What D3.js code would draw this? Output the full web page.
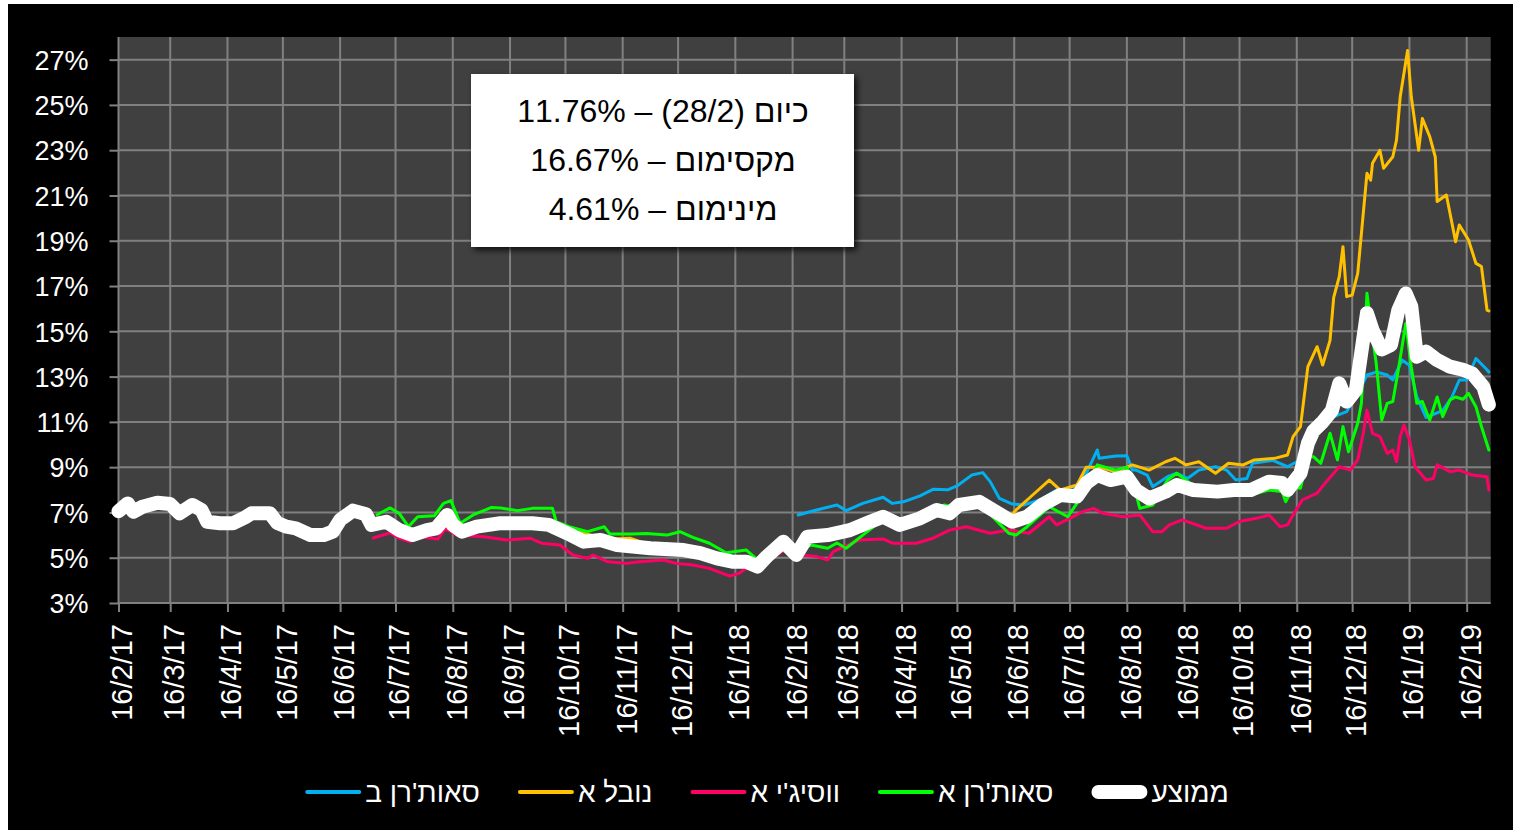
<!DOCTYPE html>
<html><head><meta charset="utf-8">
<script src="https://cdn.jsdelivr.net/npm/d3@7"></script>
<style>
html,body{margin:0;padding:0;background:#fff;}
svg{display:block;}
text{font-family:"Liberation Sans",Arial,sans-serif;}
</style></head><body>
<svg id="chart" width="1513" height="832"></svg>
<script>
// ---------- DATA (percent) ----------
const domainStart = "2017-02-16";
const domainEnd = "2019-03-01";
const yTicks = [3,5,7,9,11,13,15,17,19,21,23,25,27];
const xTickDates = ["2017-02-16","2017-03-16","2017-04-16","2017-05-16","2017-06-16","2017-07-16","2017-08-16","2017-09-16","2017-10-16","2017-11-16","2017-12-16","2018-01-16","2018-02-16","2018-03-16","2018-04-16","2018-05-16","2018-06-16","2018-07-16","2018-08-16","2018-09-16","2018-10-16","2018-11-16","2018-12-16","2019-01-16","2019-02-16"];
const seriesNames = ["סאות'רן ב","נובל א","ווסיג'י א","סאות'רן א","ממוצע"];
const seriesColors = ["#00B0F0","#FFC000","#FF0066","#00FF00","#FFFFFF"];
const boxLines = ["כיום (28/2) – 11.76%","מקסימום – 16.67%","מינימום – 4.61%"];

const southernB = [["2018-02-19",6.89],["2018-03-01",7.11],["2018-03-12",7.33],["2018-03-17",7.08],["2018-03-26",7.4],["2018-04-06",7.67],["2018-04-11",7.4],["2018-04-17",7.47],["2018-04-26",7.73],["2018-05-03",8.02],["2018-05-11",8.0],["2018-05-16",8.17],["2018-05-24",8.65],["2018-05-30",8.76],["2018-06-03",8.36],["2018-06-08",7.62],["2018-06-15",7.37],["2018-06-21",7.33],["2018-06-30",7.55],["2018-07-09",7.99],["2018-07-18",8.0],["2018-07-25",8.73],["2018-07-31",9.76],["2018-08-01",9.39],["2018-08-10",9.49],["2018-08-16",9.5],["2018-08-19",8.87],["2018-08-21",8.87],["2018-08-27",8.65],["2018-08-30",8.14],["2018-09-07",8.58],["2018-09-12",8.73],["2018-09-18",8.51],["2018-09-24",8.87],["2018-10-03",9.02],["2018-10-09",8.87],["2018-10-14",8.43],["2018-10-20",8.5],["2018-10-23",9.17],["2018-11-03",9.3],["2018-11-11",9.02],["2018-11-16",9.24],["2018-11-22",9.9],["2018-11-27",11.08],["2018-12-05",11.2],["2018-12-13",11.45],["2018-12-20",12.41],["2018-12-24",13.07],["2018-12-29",13.2],["2019-01-04",13.07],["2019-01-07",12.85],["2019-01-12",13.73],["2019-01-16",13.5],["2019-01-20",12.1],["2019-01-25",11.2],["2019-02-03",11.5],["2019-02-08",12.1],["2019-02-12",12.85],["2019-02-16",12.85],["2019-02-21",13.8],["2019-02-27",13.3],["2019-02-28",13.2]];

const nobleA = [["2017-02-16",7.05],["2017-02-21",7.4],["2017-02-24",7.03],["2017-03-01",7.25],["2017-03-09",7.43],["2017-03-16",7.37],["2017-03-21",6.96],["2017-03-28",7.33],["2017-04-02",7.1],["2017-04-05",6.59],["2017-04-12",6.52],["2017-04-19",6.52],["2017-04-26",6.8],["2017-04-29",6.96],["2017-05-09",6.96],["2017-05-13",6.53],["2017-05-18",6.37],["2017-05-23",6.3],["2017-05-31",6.0],["2017-06-07",6.0],["2017-06-12",6.15],["2017-06-16",6.67],["2017-06-23",7.05],["2017-06-30",6.95],["2017-07-03",6.5],["2017-07-11",6.6],["2017-07-18",6.25],["2017-07-25",6.05],["2017-08-02",6.25],["2017-08-07",6.35],["2017-08-13",6.85],["2017-08-16",6.5],["2017-08-21",6.2],["2017-08-29",6.4],["2017-09-10",6.55],["2017-09-28",6.55],["2017-10-07",6.5],["2017-10-13",6.3],["2017-10-17",6.15],["2017-10-26",6.1],["2017-11-04",5.86],["2017-11-13",5.84],["2017-11-20",5.86],["2017-12-01",5.55],["2017-12-19",5.4],["2017-12-28",5.25],["2018-01-06",5.05],["2018-01-15",4.9],["2018-01-22",4.95],["2018-01-26",4.9],["2018-01-28",4.65],["2018-02-02",5.05],["2018-02-11",5.7],["2018-02-18",5.15],["2018-02-24",5.95],["2018-03-07",6.0],["2018-03-19",6.2],["2018-03-30",6.6],["2018-04-06",6.85],["2018-04-15",6.5],["2018-04-26",6.75],["2018-05-05",7.05],["2018-05-12",6.95],["2018-05-17",7.3],["2018-05-28",7.45],["2018-06-06",7.05],["2018-06-13",6.75],["2018-06-17",7.11],["2018-06-26",7.77],["2018-07-05",8.43],["2018-07-11",7.99],["2018-07-20",8.21],["2018-07-25",9.0],["2018-08-01",9.0],["2018-08-10",8.8],["2018-08-19",9.1],["2018-08-28",8.87],["2018-09-06",9.24],["2018-09-11",9.39],["2018-09-17",9.1],["2018-09-24",9.24],["2018-10-03",8.73],["2018-10-10",9.17],["2018-10-18",9.1],["2018-10-24",9.32],["2018-11-04",9.39],["2018-11-11",9.54],["2018-11-14",10.35],["2018-11-18",10.79],["2018-11-22",13.44],["2018-11-27",14.32],["2018-11-30",13.51],["2018-12-04",14.6],["2018-12-06",16.5],["2018-12-09",17.41],["2018-12-11",18.74],["2018-12-13",16.53],["2018-12-16",16.6],["2018-12-19",17.56],["2018-12-24",21.98],["2018-12-26",21.68],["2018-12-27",22.42],["2018-12-31",23.0],["2019-01-02",22.2],["2019-01-07",22.71],["2019-01-09",23.45],["2019-01-11",25.36],["2019-01-15",27.4],["2019-01-17",25.36],["2019-01-21",23.0],["2019-01-23",24.4],["2019-01-27",23.6],["2019-01-30",22.7],["2019-01-31",20.73],["2019-02-05",21.02],["2019-02-10",18.96],["2019-02-12",19.7],["2019-02-17",19.03],["2019-02-21",18.0],["2019-02-24",17.86],["2019-02-27",15.94],["2019-02-28",15.9]];

const wasigiA = [["2017-07-04",5.87],["2017-07-13",6.1],["2017-07-18",5.86],["2017-07-24",5.71],["2017-07-29",5.93],["2017-08-08",5.83],["2017-08-12",6.3],["2017-08-18",6.0],["2017-09-02",5.93],["2017-09-14",5.78],["2017-09-27",5.86],["2017-10-03",5.64],["2017-10-13",5.56],["2017-10-20",5.12],["2017-10-28",4.97],["2017-10-31",5.12],["2017-11-08",4.82],["2017-11-18",4.75],["2017-11-25",4.82],["2017-12-08",4.9],["2017-12-15",4.75],["2017-12-24",4.68],["2018-01-02",4.53],["2018-01-13",4.19],["2018-01-18",4.31],["2018-01-22",4.53],["2018-01-28",4.55],["2018-02-02",4.9],["2018-02-11",5.3],["2018-02-20",5.12],["2018-03-01",5.05],["2018-03-07",4.9],["2018-03-10",5.27],["2018-03-24",5.78],["2018-04-06",5.83],["2018-04-11",5.64],["2018-04-24",5.64],["2018-05-03",5.86],["2018-05-12",6.22],["2018-05-21",6.37],["2018-06-03",6.08],["2018-06-13",6.22],["2018-06-24",6.08],["2018-07-05",6.81],["2018-07-09",6.45],["2018-07-16",6.74],["2018-07-23",7.03],["2018-07-29",7.18],["2018-08-03",6.96],["2018-08-14",6.81],["2018-08-23",6.89],["2018-08-30",6.15],["2018-09-04",6.15],["2018-09-08",6.45],["2018-09-15",6.67],["2018-09-28",6.3],["2018-10-09",6.3],["2018-10-16",6.6],["2018-10-25",6.74],["2018-11-01",6.89],["2018-11-07",6.37],["2018-11-11",6.45],["2018-11-14",6.89],["2018-11-19",7.55],["2018-11-27",7.85],["2018-12-02",8.36],["2018-12-09",9.02],["2018-12-15",8.87],["2018-12-19",9.32],["2018-12-22",10.49],["2018-12-24",11.52],["2018-12-27",10.49],["2018-12-31",10.35],["2019-01-04",9.61],["2019-01-07",9.76],["2019-01-09",9.24],["2019-01-11",10.35],["2019-01-13",10.86],["2019-01-16",10.2],["2019-01-19",9.02],["2019-01-25",8.43],["2019-01-29",8.5],["2019-01-31",9.1],["2019-02-07",8.8],["2019-02-12",8.87],["2019-02-19",8.65],["2019-02-27",8.58],["2019-02-28",7.99]];

const southernA = [["2017-07-06",6.9],["2017-07-13",7.2],["2017-07-18",6.96],["2017-07-23",6.37],["2017-07-28",6.81],["2017-08-06",6.85],["2017-08-11",7.4],["2017-08-15",7.52],["2017-08-20",6.52],["2017-08-27",6.89],["2017-09-06",7.22],["2017-09-11",7.2],["2017-09-20",7.08],["2017-09-28",7.18],["2017-10-09",7.18],["2017-10-11",6.59],["2017-10-18",6.37],["2017-10-28",6.15],["2017-11-06",6.37],["2017-11-09",6.05],["2017-11-21",6.05],["2017-11-29",6.07],["2017-12-10",6.0],["2017-12-17",6.15],["2017-12-24",5.9],["2018-01-02",5.64],["2018-01-11",5.22],["2018-01-22",5.34],["2018-01-28",4.9],["2018-02-02",5.0],["2018-02-11",5.6],["2018-02-18",5.3],["2018-02-26",5.56],["2018-03-07",5.42],["2018-03-12",5.65],["2018-03-17",5.42],["2018-03-26",6.0],["2018-04-06",6.7],["2018-04-15",6.4],["2018-04-26",6.8],["2018-05-09",7.33],["2018-05-18",7.2],["2018-05-28",7.4],["2018-06-06",6.67],["2018-06-13",6.08],["2018-06-17",6.0],["2018-06-23",6.37],["2018-07-05",7.25],["2018-07-15",6.81],["2018-07-23",7.77],["2018-07-31",9.1],["2018-08-10",8.87],["2018-08-16",9.0],["2018-08-19",8.43],["2018-08-23",7.18],["2018-08-30",7.33],["2018-09-07",8.43],["2018-09-12",8.73],["2018-09-24",8.0],["2018-10-03",7.7],["2018-10-12",7.77],["2018-10-23",7.8],["2018-11-01",7.99],["2018-11-08",7.92],["2018-11-10",7.47],["2018-11-14",8.1],["2018-11-18",8.07],["2018-11-22",9.46],["2018-11-25",9.46],["2018-11-29",9.17],["2018-12-04",10.5],["2018-12-08",9.32],["2018-12-11",10.79],["2018-12-14",9.68],["2018-12-19",10.94],["2018-12-21",11.82],["2018-12-24",16.68],["2018-12-27",14.76],["2018-12-29",13.59],["2019-01-01",11.08],["2019-01-04",11.82],["2019-01-07",11.9],["2019-01-10",13.3],["2019-01-14",15.35],["2019-01-17",13.44],["2019-01-20",11.82],["2019-01-23",11.9],["2019-01-27",11.08],["2019-01-31",12.1],["2019-02-03",11.23],["2019-02-07",11.97],["2019-02-10",12.1],["2019-02-14",12.0],["2019-02-17",12.26],["2019-02-21",11.67],["2019-02-24",10.79],["2019-02-28",9.76]];

const average = [["2017-02-16",7.05],["2017-02-21",7.4],["2017-02-24",7.03],["2017-03-01",7.25],["2017-03-09",7.43],["2017-03-16",7.37],["2017-03-21",6.96],["2017-03-28",7.33],["2017-04-02",7.1],["2017-04-05",6.59],["2017-04-12",6.52],["2017-04-19",6.52],["2017-04-26",6.8],["2017-04-29",6.96],["2017-05-09",6.96],["2017-05-13",6.53],["2017-05-18",6.37],["2017-05-23",6.3],["2017-05-31",6.0],["2017-06-07",6.0],["2017-06-12",6.15],["2017-06-16",6.67],["2017-06-23",7.08],["2017-06-30",6.92],["2017-07-03",6.45],["2017-07-11",6.59],["2017-07-18",6.22],["2017-07-25",6.0],["2017-08-02",6.22],["2017-08-07",6.3],["2017-08-13",6.89],["2017-08-16",6.45],["2017-08-21",6.15],["2017-08-29",6.37],["2017-09-10",6.52],["2017-09-28",6.52],["2017-10-07",6.45],["2017-10-17",6.08],["2017-10-26",5.71],["2017-11-04",5.78],["2017-11-13",5.56],["2017-12-01",5.42],["2017-12-19",5.34],["2017-12-28",5.2],["2018-01-06",4.97],["2018-01-15",4.82],["2018-01-22",4.82],["2018-01-28",4.61],["2018-02-02",5.05],["2018-02-11",5.71],["2018-02-18",5.12],["2018-02-24",5.93],["2018-03-07",6.0],["2018-03-19",6.22],["2018-03-30",6.59],["2018-04-06",6.81],["2018-04-15",6.45],["2018-04-26",6.74],["2018-05-05",7.11],["2018-05-12",6.96],["2018-05-17",7.33],["2018-05-28",7.47],["2018-06-06",7.03],["2018-06-15",6.59],["2018-06-23",6.81],["2018-07-01",7.33],["2018-07-11",7.77],["2018-07-20",7.7],["2018-07-25",8.29],["2018-07-31",8.65],["2018-08-07",8.43],["2018-08-16",8.58],["2018-08-21",7.99],["2018-08-28",7.62],["2018-09-06",7.92],["2018-09-12",8.21],["2018-09-15",8.14],["2018-09-21",7.99],["2018-10-04",7.92],["2018-10-13",7.99],["2018-10-22",7.99],["2018-11-01",8.36],["2018-11-08",8.3],["2018-11-11",7.99],["2018-11-18",8.73],["2018-11-22",10.05],["2018-11-25",10.6],["2018-11-30",11.0],["2018-12-05",11.5],["2018-12-09",12.7],["2018-12-13",11.9],["2018-12-18",12.41],["2018-12-24",15.8],["2018-12-27",15.06],["2019-01-01",14.2],["2019-01-06",14.4],["2019-01-10",15.94],["2019-01-14",16.67],["2019-01-17",16.1],["2019-01-20",13.88],["2019-01-25",14.1],["2019-01-31",13.73],["2019-02-07",13.44],["2019-02-14",13.3],["2019-02-19",13.14],["2019-02-25",12.55],["2019-02-28",11.76]];

const allSeries = [southernB, nobleA, wasigiA, southernA, average];

// ---------- DRAW ----------
const parse = d3.timeParse("%Y-%m-%d");
const svg = d3.select("#chart");
svg.append("rect").attr("x",8).attr("y",4).attr("width",1505).attr("height",826).attr("fill","#000");

const m = {left:118.5, right:1490.7, top:37, bottom:603};
const x = d3.scaleTime().domain([parse(domainStart), parse(domainEnd)]).range([m.left, m.right]);
const y = d3.scaleLinear().domain([3,28]).range([m.bottom, m.top]);

svg.append("rect").attr("x",m.left).attr("y",m.top).attr("width",m.right-m.left).attr("height",m.bottom-m.top).attr("fill","#404040");

const gridColor = "#808080";
const grid = svg.append("g");
grid.selectAll("line.v").data(xTickDates).join("line")
  .attr("x1",d=>x(parse(d))).attr("x2",d=>x(parse(d)))
  .attr("y1",m.top).attr("y2",m.bottom)
  .attr("stroke",gridColor).attr("stroke-width",2);
grid.selectAll("line.h").data(yTicks).join("line")
  .attr("x1",m.left).attr("x2",m.right)
  .attr("y1",d=>y(d)).attr("y2",d=>y(d))
  .attr("stroke",gridColor).attr("stroke-width",2);

// Y axis
const yAxis = svg.append("g").attr("transform",`translate(${m.left},0)`)
  .call(d3.axisLeft(y).tickValues(yTicks).tickSize(9).tickPadding(21).tickFormat(d=>d+"%"));
yAxis.select(".domain").remove();
yAxis.selectAll(".tick line").attr("stroke",gridColor).attr("stroke-width",2);
yAxis.selectAll(".tick text").attr("fill","#fff").style("font-size","27px")
  .style("font-family",'"Liberation Sans",Arial,sans-serif').attr("dy","0.36em");

// X axis
const fmt = d => d.getDate()+"/"+(d.getMonth()+1)+"/"+String(d.getFullYear()).slice(2);
const xAxis = svg.append("g").attr("transform",`translate(0,${m.bottom})`)
  .call(d3.axisBottom(x).tickValues(xTickDates.map(parse)).tickSize(9).tickFormat(fmt));
xAxis.select(".domain").remove();
xAxis.selectAll(".tick line").attr("stroke",gridColor).attr("stroke-width",2);
xAxis.selectAll(".tick text").attr("fill","#fff").style("font-size","29px")
  .style("font-family",'"Liberation Sans",Arial,sans-serif')
  .attr("transform","rotate(-90)").attr("text-anchor","end")
  .attr("x",-21).attr("y",3).attr("dy","0.36em");

// Lines
const line = d3.line().x(d=>x(parse(d[0]))).y(d=>y(d[1]));
const lines = svg.append("g");
allSeries.forEach((s,i)=>{
  lines.append("path").datum(s).attr("d",line).attr("fill","none")
    .attr("stroke",seriesColors[i]).attr("stroke-width", i===4 ? 14 : 3)
    .attr("stroke-linejoin","round").attr("stroke-linecap","round");
});

// Text box
const defs = svg.append("defs");
const f = defs.append("filter").attr("id","shadow").attr("x","-10%").attr("y","-10%").attr("width","130%").attr("height","130%");
f.append("feDropShadow").attr("dx",3).attr("dy",3).attr("stdDeviation",3).attr("flood-color","#000").attr("flood-opacity",0.8);
svg.append("rect").attr("x",471).attr("y",74).attr("width",383).attr("height",173).attr("fill","#fff").attr("filter","url(#shadow)");
const box = svg.append("g");
box.selectAll("text").data(boxLines).join("text")
  .attr("x",663).attr("y",(d,i)=>121.5+i*49)
  .attr("text-anchor","middle").attr("direction","rtl")
  .style("font-size","32px").attr("fill","#000").text(d=>d);

// Legend
const legend = svg.append("g");
const items = [];
const lineLen = 56, gapLT = 4, gapItem = 38;
seriesNames.forEach((n,i)=>{
  const g = legend.append("g");
  const t = g.append("text").text(n).attr("fill","#fff").style("font-size","28px").attr("y",801.5);
  items.push({g,t,w:t.node().getComputedTextLength(),i});
});
let total = items.reduce((a,it)=>a+lineLen+gapLT+it.w,0)+gapItem*(items.length-1);
let cx = 767 - total/2;
items.forEach(it=>{
  const white = it.i===4;
  it.g.append("line").attr("x1",cx+(white?7:2)).attr("x2",cx+lineLen-(white?7:2)).attr("y1",792).attr("y2",792)
    .attr("stroke",seriesColors[it.i]).attr("stroke-width",white?14:4).attr("stroke-linecap","round");
  it.t.attr("x",cx+lineLen+gapLT);
  cx += lineLen+gapLT+it.w+gapItem;
});
</script>
</body></html>
